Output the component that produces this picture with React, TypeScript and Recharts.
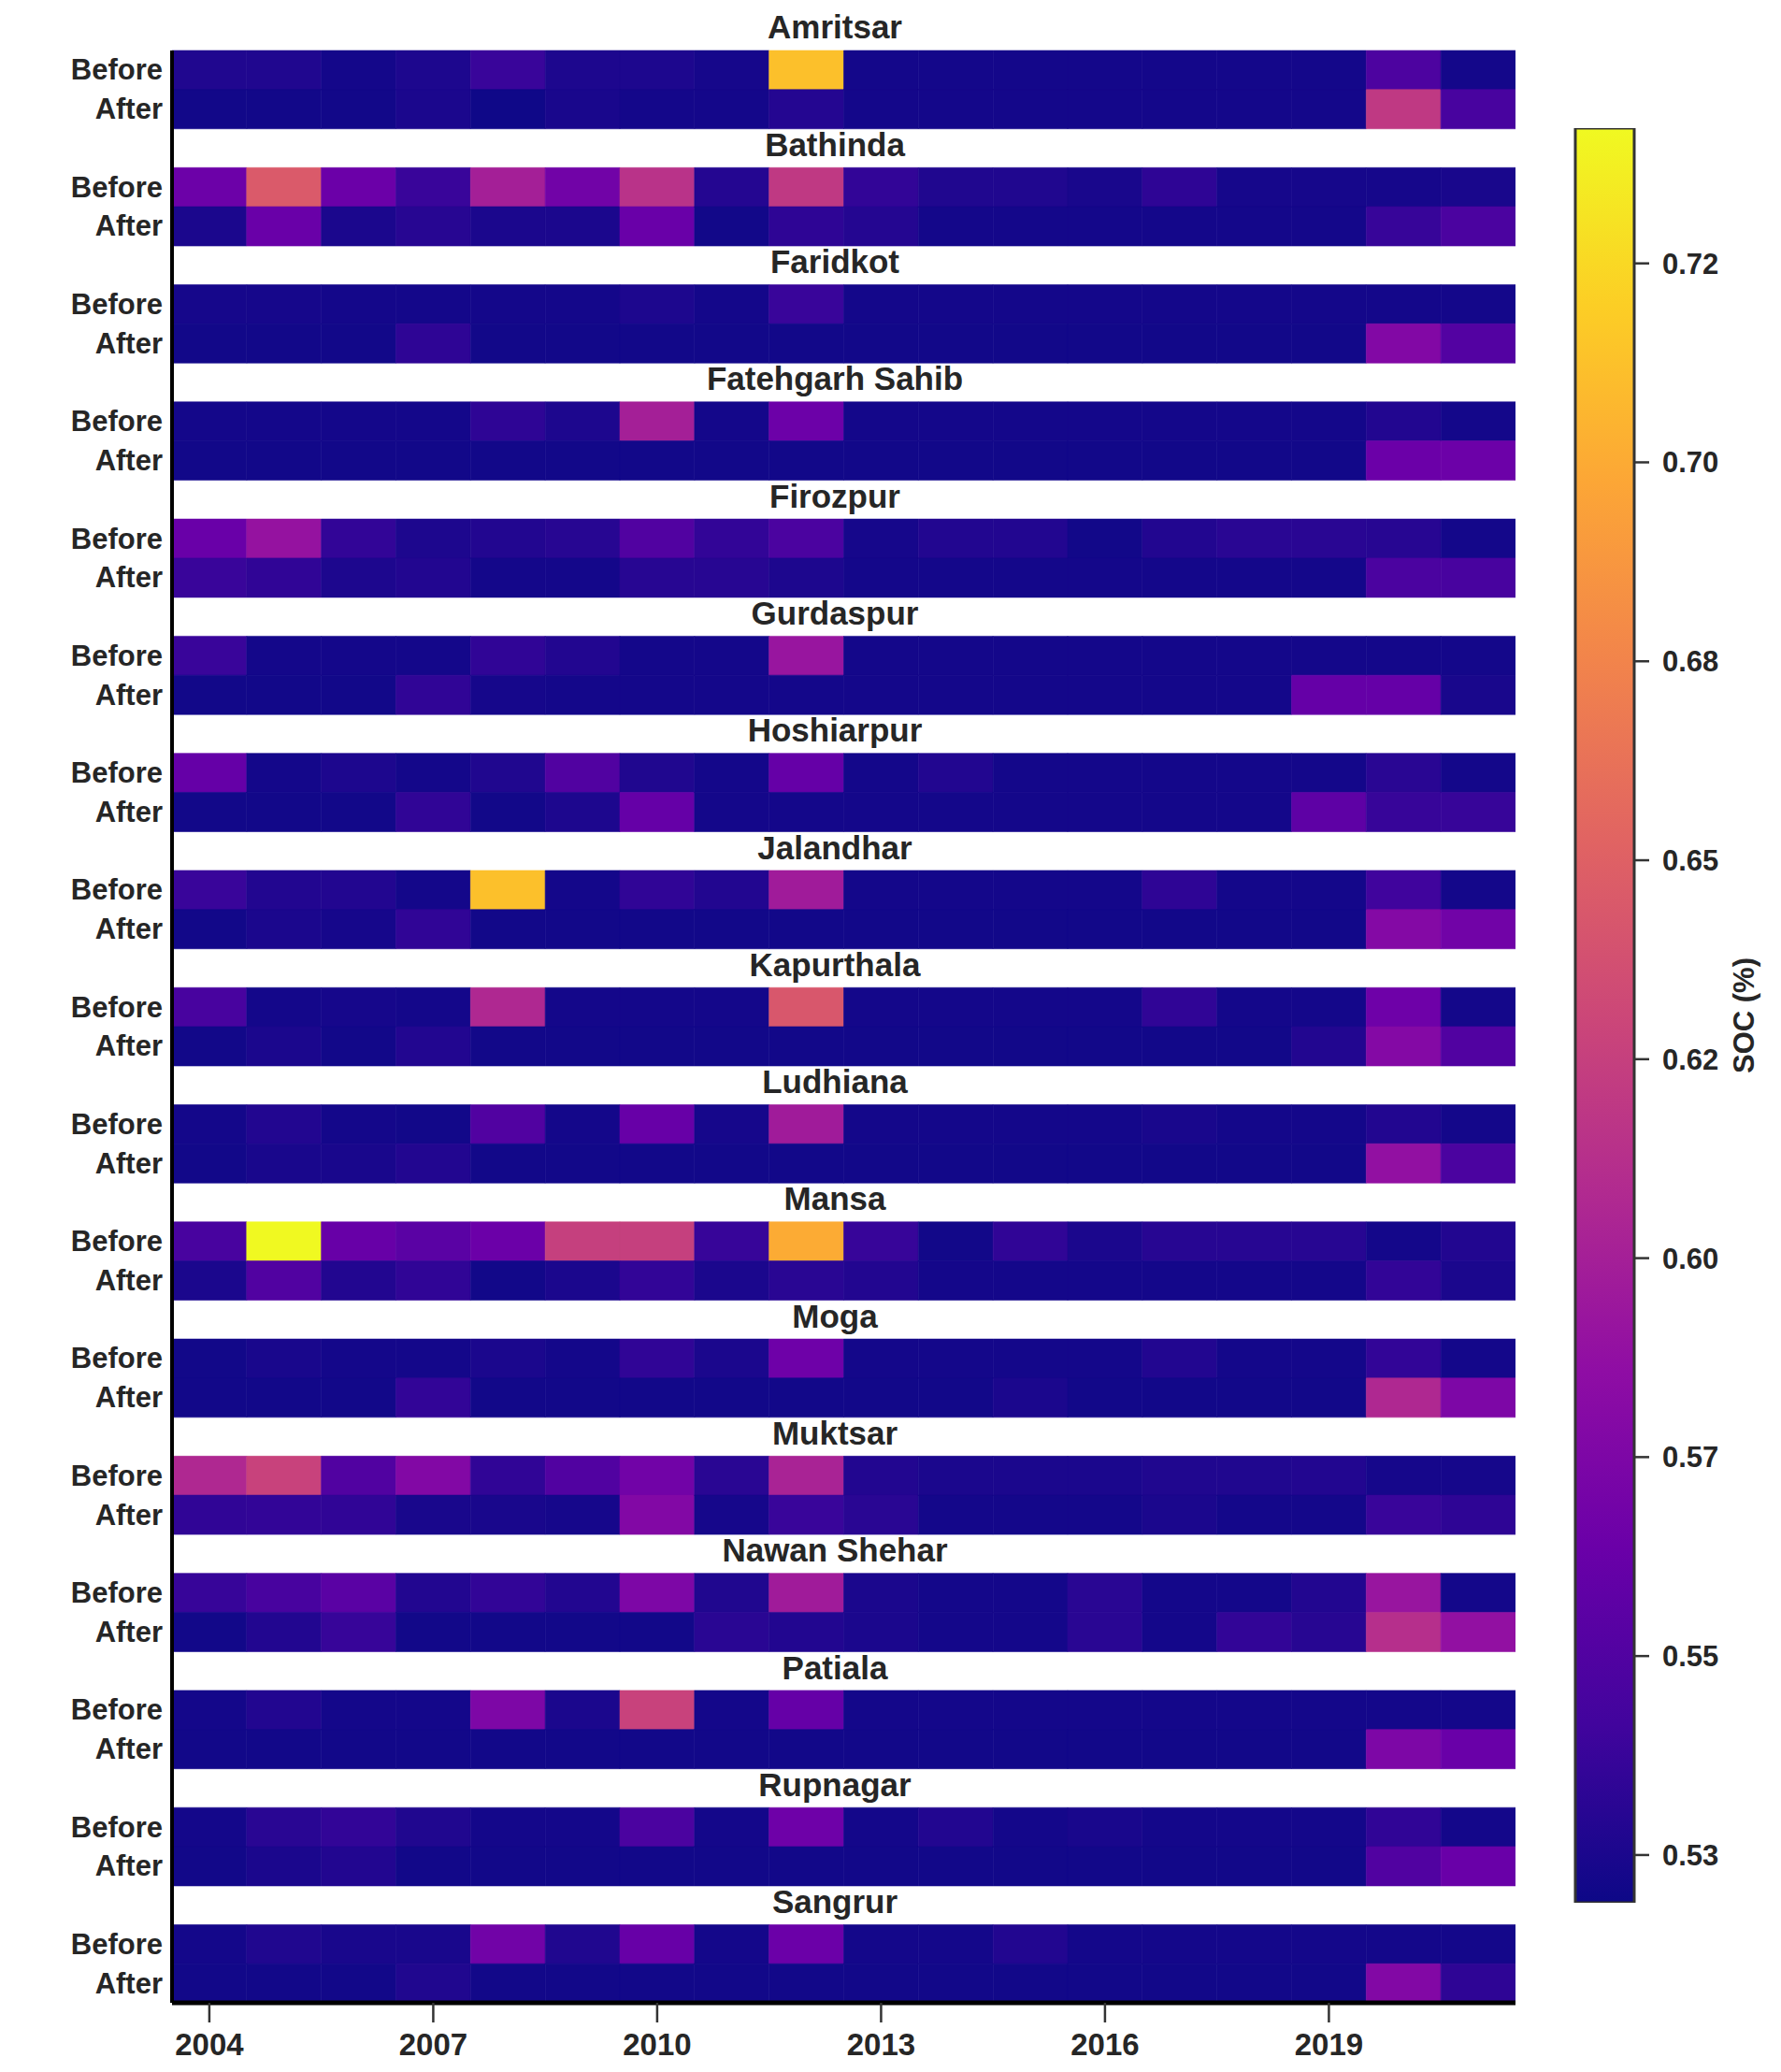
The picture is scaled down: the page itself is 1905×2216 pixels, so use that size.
import * as React from 'react';
import { BarChart, Bar, Cell, XAxis, YAxis } from 'recharts';

// years on the x axis, one cell each
const years = [2004, 2005, 2006, 2007, 2008, 2009, 2010, 2011, 2012, 2013, 2014, 2015, 2016, 2017, 2018, 2019, 2020, 2021];
const yearTicks = [2004, 2007, 2010, 2013, 2016, 2019];

// SOC (%) per district, before / after
const amritsarBefore = [0.527, 0.527, 0.522, 0.526, 0.538, 0.526, 0.526, 0.523, 0.712, 0.522, 0.522, 0.522, 0.522, 0.522, 0.522, 0.522, 0.548, 0.522];
const amritsarAfter = [0.521, 0.521, 0.521, 0.525, 0.520, 0.524, 0.522, 0.522, 0.529, 0.522, 0.522, 0.522, 0.522, 0.522, 0.522, 0.522, 0.620, 0.545];
const bathindaBefore = [0.565, 0.645, 0.564, 0.538, 0.600, 0.568, 0.615, 0.529, 0.620, 0.535, 0.527, 0.527, 0.524, 0.533, 0.523, 0.523, 0.523, 0.524];
const bathindaAfter = [0.525, 0.563, 0.525, 0.530, 0.525, 0.525, 0.563, 0.521, 0.533, 0.529, 0.522, 0.522, 0.522, 0.522, 0.522, 0.522, 0.537, 0.547];
const faridkotBefore = [0.523, 0.523, 0.522, 0.522, 0.522, 0.522, 0.526, 0.522, 0.538, 0.522, 0.522, 0.522, 0.522, 0.522, 0.522, 0.522, 0.522, 0.522];
const faridkotAfter = [0.521, 0.521, 0.521, 0.533, 0.521, 0.521, 0.521, 0.521, 0.521, 0.521, 0.521, 0.521, 0.521, 0.521, 0.521, 0.521, 0.578, 0.551];
const fatehgarhBefore = [0.522, 0.522, 0.522, 0.522, 0.533, 0.526, 0.600, 0.522, 0.565, 0.522, 0.522, 0.522, 0.522, 0.522, 0.522, 0.522, 0.528, 0.522];
const fatehgarhAfter = [0.521, 0.521, 0.521, 0.521, 0.521, 0.521, 0.521, 0.521, 0.521, 0.521, 0.521, 0.521, 0.521, 0.521, 0.521, 0.521, 0.564, 0.565];
const firozpurBefore = [0.563, 0.590, 0.535, 0.526, 0.528, 0.530, 0.550, 0.535, 0.547, 0.523, 0.528, 0.528, 0.521, 0.528, 0.531, 0.531, 0.530, 0.522];
const firozpurAfter = [0.538, 0.534, 0.526, 0.528, 0.522, 0.522, 0.530, 0.530, 0.526, 0.522, 0.522, 0.522, 0.522, 0.522, 0.522, 0.522, 0.547, 0.545];
const gurdaspurBefore = [0.538, 0.522, 0.522, 0.522, 0.534, 0.528, 0.522, 0.522, 0.592, 0.522, 0.522, 0.522, 0.522, 0.522, 0.522, 0.522, 0.522, 0.522];
const gurdaspurAfter = [0.521, 0.521, 0.521, 0.534, 0.523, 0.522, 0.522, 0.522, 0.522, 0.522, 0.522, 0.522, 0.522, 0.522, 0.522, 0.561, 0.561, 0.524];
const hoshiarpurBefore = [0.561, 0.522, 0.526, 0.522, 0.527, 0.550, 0.527, 0.522, 0.561, 0.522, 0.528, 0.522, 0.522, 0.522, 0.522, 0.522, 0.531, 0.522];
const hoshiarpurAfter = [0.521, 0.521, 0.521, 0.534, 0.521, 0.526, 0.561, 0.522, 0.522, 0.522, 0.522, 0.522, 0.522, 0.522, 0.522, 0.557, 0.537, 0.537];
const jalandharBefore = [0.538, 0.528, 0.528, 0.522, 0.712, 0.522, 0.534, 0.528, 0.597, 0.522, 0.522, 0.522, 0.522, 0.533, 0.522, 0.522, 0.541, 0.522];
const jalandharAfter = [0.521, 0.525, 0.523, 0.534, 0.521, 0.521, 0.521, 0.521, 0.521, 0.521, 0.521, 0.521, 0.521, 0.521, 0.521, 0.521, 0.579, 0.568];
const kapurthalaBefore = [0.545, 0.522, 0.523, 0.522, 0.607, 0.522, 0.522, 0.522, 0.643, 0.522, 0.522, 0.522, 0.522, 0.534, 0.522, 0.522, 0.566, 0.522];
const kapurthalaAfter = [0.521, 0.525, 0.521, 0.528, 0.521, 0.521, 0.521, 0.521, 0.521, 0.521, 0.521, 0.521, 0.521, 0.521, 0.521, 0.528, 0.579, 0.550];
const ludhianaBefore = [0.522, 0.528, 0.522, 0.521, 0.550, 0.522, 0.562, 0.523, 0.597, 0.522, 0.522, 0.522, 0.522, 0.524, 0.522, 0.522, 0.528, 0.522];
const ludhianaAfter = [0.521, 0.524, 0.524, 0.528, 0.521, 0.521, 0.521, 0.521, 0.521, 0.521, 0.521, 0.521, 0.521, 0.521, 0.521, 0.521, 0.588, 0.547];
const mansaBefore = [0.545, 0.742, 0.562, 0.555, 0.564, 0.625, 0.625, 0.537, 0.700, 0.537, 0.521, 0.534, 0.525, 0.530, 0.530, 0.530, 0.522, 0.528];
const mansaAfter = [0.525, 0.550, 0.528, 0.534, 0.521, 0.525, 0.535, 0.525, 0.531, 0.528, 0.522, 0.522, 0.522, 0.522, 0.522, 0.522, 0.535, 0.525];
const mogaBefore = [0.521, 0.524, 0.522, 0.522, 0.525, 0.522, 0.534, 0.525, 0.566, 0.522, 0.522, 0.522, 0.522, 0.528, 0.522, 0.522, 0.535, 0.522];
const mogaAfter = [0.521, 0.521, 0.521, 0.535, 0.521, 0.521, 0.521, 0.521, 0.521, 0.521, 0.521, 0.525, 0.521, 0.521, 0.521, 0.521, 0.607, 0.575];
const muktsarBefore = [0.607, 0.627, 0.550, 0.578, 0.534, 0.550, 0.568, 0.531, 0.603, 0.528, 0.525, 0.525, 0.525, 0.527, 0.527, 0.528, 0.523, 0.523];
const muktsarAfter = [0.534, 0.535, 0.534, 0.524, 0.524, 0.523, 0.578, 0.523, 0.538, 0.531, 0.522, 0.522, 0.522, 0.525, 0.522, 0.522, 0.538, 0.533];
const nawanBefore = [0.537, 0.545, 0.555, 0.528, 0.535, 0.528, 0.575, 0.527, 0.597, 0.525, 0.522, 0.522, 0.531, 0.522, 0.522, 0.528, 0.592, 0.522];
const nawanAfter = [0.521, 0.528, 0.537, 0.521, 0.521, 0.521, 0.521, 0.531, 0.528, 0.525, 0.522, 0.522, 0.531, 0.522, 0.535, 0.530, 0.612, 0.588];
const patialaBefore = [0.522, 0.528, 0.522, 0.522, 0.575, 0.525, 0.627, 0.522, 0.561, 0.522, 0.522, 0.522, 0.522, 0.522, 0.522, 0.522, 0.522, 0.522];
const patialaAfter = [0.521, 0.521, 0.521, 0.521, 0.521, 0.521, 0.521, 0.521, 0.521, 0.521, 0.521, 0.521, 0.521, 0.521, 0.521, 0.521, 0.575, 0.563];
const rupnagarBefore = [0.522, 0.531, 0.535, 0.527, 0.522, 0.522, 0.547, 0.522, 0.566, 0.522, 0.528, 0.522, 0.524, 0.522, 0.522, 0.522, 0.534, 0.522];
const rupnagarAfter = [0.521, 0.525, 0.528, 0.521, 0.521, 0.521, 0.521, 0.521, 0.521, 0.521, 0.521, 0.521, 0.521, 0.521, 0.521, 0.521, 0.550, 0.563];
const sangrurBefore = [0.522, 0.527, 0.524, 0.524, 0.568, 0.527, 0.562, 0.522, 0.564, 0.522, 0.522, 0.528, 0.522, 0.522, 0.522, 0.522, 0.522, 0.522];
const sangrurAfter = [0.521, 0.521, 0.521, 0.527, 0.521, 0.521, 0.521, 0.521, 0.521, 0.521, 0.521, 0.521, 0.521, 0.521, 0.521, 0.521, 0.578, 0.533];

const districts: Array<[string, number[], number[]]> = [
  ['Amritsar', amritsarBefore, amritsarAfter],
  ['Bathinda', bathindaBefore, bathindaAfter],
  ['Faridkot', faridkotBefore, faridkotAfter],
  ['Fatehgarh Sahib', fatehgarhBefore, fatehgarhAfter],
  ['Firozpur', firozpurBefore, firozpurAfter],
  ['Gurdaspur', gurdaspurBefore, gurdaspurAfter],
  ['Hoshiarpur', hoshiarpurBefore, hoshiarpurAfter],
  ['Jalandhar', jalandharBefore, jalandharAfter],
  ['Kapurthala', kapurthalaBefore, kapurthalaAfter],
  ['Ludhiana', ludhianaBefore, ludhianaAfter],
  ['Mansa', mansaBefore, mansaAfter],
  ['Moga', mogaBefore, mogaAfter],
  ['Muktsar', muktsarBefore, muktsarAfter],
  ['Nawan Shehar', nawanBefore, nawanAfter],
  ['Patiala', patialaBefore, patialaAfter],
  ['Rupnagar', rupnagarBefore, rupnagarAfter],
  ['Sangrur', sangrurBefore, sangrurAfter],
];

// colorbar
const VMIN = 0.519;
const VMAX = 0.742;
const cbTicks = [0.525, 0.55, 0.575, 0.6, 0.625, 0.65, 0.675, 0.7, 0.725];
const cbLabels = ['0.53', '0.55', '0.57', '0.60', '0.62', '0.65', '0.68', '0.70', '0.72'];

const PLASMA = ['#0d0887', '#41049d', '#6a00a8', '#8f0da4', '#b12a90', '#cc4778', '#e16462', '#f2844b', '#fca636', '#fcce25', '#f0f921'];

function hexToRgb(h: string) {
  return [parseInt(h.slice(1, 3), 16), parseInt(h.slice(3, 5), 16), parseInt(h.slice(5, 7), 16)];
}

function plasma(v: number) {
  let t = (v - VMIN) / (VMAX - VMIN);
  t = Math.max(0, Math.min(1, t));
  const pos = t * (PLASMA.length - 1);
  const i = Math.min(Math.floor(pos), PLASMA.length - 2);
  const f = pos - i;
  const a = hexToRgb(PLASMA[i]);
  const b = hexToRgb(PLASMA[i + 1]);
  const c = a.map((x, k) => Math.round(x + (b[k] - x) * f));
  return `rgb(${c[0]},${c[1]},${c[2]})`;
}

const FONT = '"Liberation Sans", Arial, sans-serif';
const TEXT = '#262626';

// build rows: title gap row, Before, After for each district
const rows: any[] = [];
districts.forEach(([name, before, after], i) => {
  if (i > 0) rows.push({ row: `title::${name}` });
  [['Before', before], ['After', after]].forEach(([label, vals]: any) => {
    const r: any = { row: `${name}::${label}`, colors: vals.map(plasma) };
    years.forEach((_, j) => { r[`c${j}`] = 1; });
    rows.push(r);
  });
});

const PLOT_TOP = 54;
const PLOT_BOTTOM = 2142;
const ROW_H = (PLOT_BOTTOM - PLOT_TOP) / rows.length;
const TITLE_X = 893;

function RowTick(props: any) {
  const { y, payload } = props;
  const [a, b] = String(payload.value).split('::');
  if (a === 'title') {
    return (
      <text x={TITLE_X} y={y - 4} textAnchor="middle" dominantBaseline="central"
        fontSize={35} fontWeight="bold" fontFamily={FONT} fill={TEXT}>{b}</text>
    );
  }
  return (
    <g>
      {a === 'Amritsar' && b === 'Before' ? (
        <text x={TITLE_X} y={y - ROW_H - 5} textAnchor="middle" dominantBaseline="central"
          fontSize={35} fontWeight="bold" fontFamily={FONT} fill={TEXT}>{a}</text>
      ) : null}
      <text x={174} y={y} textAnchor="end" dominantBaseline="central"
        fontSize={31} fontWeight="bold" fontFamily={FONT} fill={TEXT}>{b}</text>
    </g>
  );
}

function CbLabel(props: any) {
  const vb = props.viewBox || {};
  const x = vb.x + 117;
  const y = vb.y + vb.height / 2;
  return (
    <text x={x} y={y} transform={`rotate(-90, ${x}, ${y})`} textAnchor="middle" dominantBaseline="central"
      fontSize={31} fontWeight="bold" fontFamily={FONT} fill={TEXT}>SOC (%)</text>
  );
}

export default function App() {
  const cbData = [{ name: 'cb', range: [VMIN, VMAX] }];
  return (
    <div style={{ position: 'absolute', left: 0, top: 0, width: 1905, height: 2216, background: '#fff' }}>
      <div style={{ position: 'absolute', left: 0, top: 0 }}>
        <BarChart width={1680} height={2216} data={rows} layout="vertical"
          margin={{ top: PLOT_TOP, right: 59, bottom: 14, left: 14 }}
          barCategoryGap={0} barGap={0}>
          <XAxis type="number" domain={[0, years.length]} allowDataOverflow
            ticks={yearTicks.map((yr) => years.indexOf(yr) + 0.5)}
            tickFormatter={(v: number) => String(years[Math.floor(v)])}
            height={60} tickSize={21} tickMargin={12}
            axisLine={{ stroke: '#000', strokeWidth: 5 }}
            tickLine={{ stroke: '#333', strokeWidth: 2.5 }}
            tick={{ fontSize: 33, fontWeight: 'bold', fontFamily: FONT, fill: TEXT }} />
          <YAxis type="category" dataKey="row" width={170} interval={0}
            axisLine={{ stroke: '#000', strokeWidth: 4 }} tickLine={false}
            tick={<RowTick />} />
          {years.map((_, j) => (
            <Bar key={j} dataKey={`c${j}`} stackId="h" isAnimationActive={false}>
              {rows.map((r, k) => (
                <Cell key={k} fill={r.colors ? r.colors[j] : 'none'}
                  stroke={r.colors ? r.colors[j] : 'none'} strokeWidth={0.6} />
              ))}
            </Bar>
          ))}
        </BarChart>
      </div>
      <div style={{ position: 'absolute', left: 1660, top: 0 }}>
        <BarChart width={245} height={2216} data={cbData}
          margin={{ top: 137, right: 57, bottom: 181, left: 25 }}
          barCategoryGap={0}>
          <defs>
            <linearGradient id="plasmaGrad" x1="0" y1="1" x2="0" y2="0">
              {PLASMA.map((c, i) => (
                <stop key={i} offset={i / (PLASMA.length - 1)} stopColor={c} />
              ))}
            </linearGradient>
          </defs>
          <XAxis type="category" dataKey="name" hide />
          <YAxis type="number" orientation="right" domain={[VMIN, VMAX]} allowDataOverflow
            ticks={cbTicks} interval={0}
            tickFormatter={(v: number) => cbLabels[cbTicks.indexOf(v)]}
            width={100} tickSize={16} tickMargin={14} axisLine={false}
            tickLine={{ stroke: '#333', strokeWidth: 2.5 }}
            tick={{ fontSize: 31, fontWeight: 'bold', fontFamily: FONT, fill: TEXT }}
            label={<CbLabel />} />
          <Bar dataKey="range" fill="url(#plasmaGrad)" stroke="#333" strokeWidth={3}
            isAnimationActive={false} />
        </BarChart>
      </div>
    </div>
  );
}
